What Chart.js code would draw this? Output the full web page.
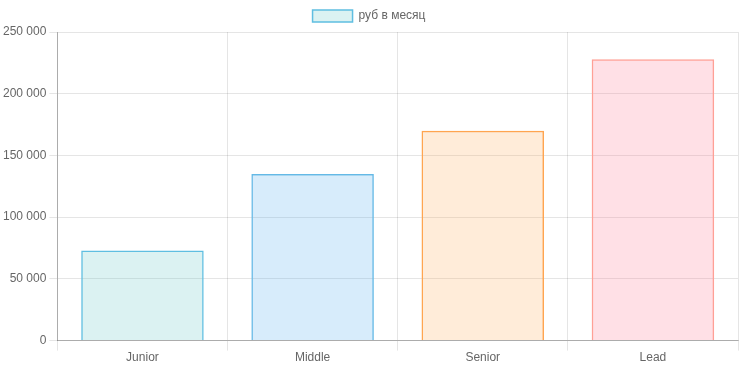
<!DOCTYPE html>
<html>
<head>
<meta charset="utf-8">
<script src="https://cdn.jsdelivr.net/npm/chart.js@4.4.0/dist/chart.umd.min.js"></script>
<style>
  html, body { margin: 0; padding: 0; background: #fff; }
  .wrap { width: 739px; height: 369px; }
</style>
</head>
<body>
<div class="wrap"><canvas id="myChart"></canvas></div>
<script>
var categories = ["Junior", "Middle", "Senior", "Lead"];
var salaries = [73000, 135000, 170000, 228000];
var seriesLabel = "руб в месяц";

var fill = [
  "rgba(75,192,192,0.2)",
  "rgba(54,162,235,0.2)",
  "rgba(255,159,64,0.2)",
  "rgba(255,99,132,0.2)"
];
var border = [
  "rgb(95,190,225)",
  "rgb(100,185,230)",
  "rgb(255,165,80)",
  "rgb(255,160,150)"
];

function spaced(v) {
  return String(v).replace(/\B(?=(\d{3})+(?!\d))/g, " ");
}

Chart.defaults.font.family = "'Liberation Sans', Arial, sans-serif";
Chart.defaults.font.size = 12;
Chart.defaults.color = "#666";

var ctx = document.getElementById("myChart").getContext("2d");

var myChart = new Chart(ctx, {
  type: "bar",
  data: {
    labels: categories,
    datasets: [
      {
        label: seriesLabel,
        data: salaries,
        backgroundColor: fill,
        borderColor: border,
        borderWidth: 1.5
      }
    ]
  },
  options: {
    responsive: true,
    maintainAspectRatio: false,
    animation: false,
    layout: { padding: { right: 1, top: 0, bottom: 4 } },
    plugins: {
      legend: {
        labels: { boxWidth: 40, boxHeight: 12, padding: 10 }
      },
      tooltip: { enabled: false }
    },
    scales: {
      x: {
        grid: { color: "rgba(0,0,0,0.1)", tickLength: 10, offset: true },
        border: { color: "rgba(0,0,0,0.25)" },
        ticks: { padding: 0 }
      },
      y: {
        beginAtZero: true,
        min: 0,
        max: 250000,
        grid: { color: "rgba(0,0,0,0.1)", tickLength: 8 },
        border: { color: "rgba(0,0,0,0.25)" },
        ticks: {
          stepSize: 50000,
          padding: 3,
          callback: function (v) { return spaced(v); }
        }
      }
    }
  }
});
</script>
</body>
</html>
